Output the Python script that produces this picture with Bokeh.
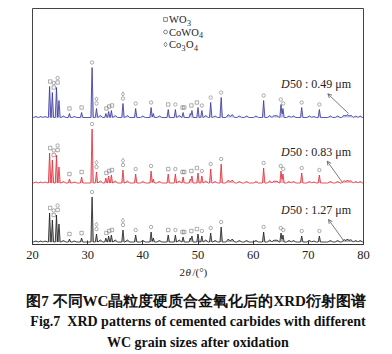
import numpy as np
from bokeh.plotting import figure
from bokeh.layouts import column
from bokeh.models import Range1d, Label, Arrow, OpenHead, FixedTicker, Title
from bokeh.embed import file_html
from bokeh.resources import INLINE

# ---------------- data ----------------
# 2theta positions of the diffraction peaks
peak_pos = [23.1, 23.6, 24.35, 24.8, 26.7, 28.9, 30.8, 31.6, 33.3, 33.8, 34.3,
            36.4, 38.7, 41.5, 41.9, 44.6, 45.9, 47.3, 48.6, 48.9, 50.0, 50.7,
            52.3, 54.2, 61.9, 65.05, 65.4, 68.8, 72.0]
# peak intensities (a.u.) for each grain size
h_049 = [31, 25, 30, 17, 4, 5, 50, 9, 4, 6, 7,
         14, 9, 10, 4, 8, 8, 5, 4, 7, 10, 7,
         15, 20, 17, 13, 9, 10, 8]
h_083 = [30, 23, 28, 16, 4, 6, 54, 11, 5, 7, 8,
         13, 9, 12, 4, 9, 9, 6, 4, 7, 10, 7,
         14, 19, 15, 12, 9, 10, 8]
h_127 = [29, 22, 27, 18, 3, 4, 45, 8, 4, 6, 7,
         12, 7, 10, 4, 7, 7, 5, 4, 6, 8, 6,
         9, 15, 10, 9, 7, 6, 6]
# weak background bumps
minor_pos = [20.6, 21.5, 22.3, 25.6, 27.6, 32.3, 35.0, 37.2, 40.0, 43.0, 46.6,
             51.4, 53.1, 55.5, 56.2, 57.5, 58.8, 60.5, 63.0, 63.8, 64.3, 66.5,
             67.3, 70.2, 71.0, 74.0, 75.3, 76.5, 77.1, 77.7, 78.6, 79.4]
minor_049 = [1, 1, 1, 1.5, 1, 2, 2, 2, 1.5, 1.5, 2, 2, 1.5, 3, 3, 1.5, 1.5,
             1.5, 2, 2, 2, 1.5, 1.5, 1.5, 1, 1.5, 1.5, 2.5, 3, 2.5, 1.5, 1.5]
minor_083 = [1, 1, 1, 1.5, 1, 2, 2, 2, 1.5, 1.5, 2, 2, 1.5, 3, 3, 1.5, 1.5,
             1.5, 2, 2, 2, 1.5, 1.5, 1.5, 1, 1.5, 1.5, 2.5, 3, 2.5, 1.5, 1.5]
minor_127 = [1, 1, 1, 1.5, 1, 2, 2, 2, 1.5, 1.5, 2, 2, 1.5, 3, 3, 1.5, 1.5,
             1.5, 2, 2, 2, 1.5, 1.5, 1.5, 1, 1.5, 1.5, 2.5, 3, 2.5, 1.5, 1.5]
# phase markers: position and phases (s = WO3, c = CoWO4, d = Co3O4), bottom to top
marker_pos = [23.2, 23.85, 24.55, 26.7, 28.9, 30.8, 31.6, 33.4, 33.9, 34.4,
              36.4, 38.7, 41.5, 44.6, 45.9, 47.2, 47.5, 48.8, 49.8, 50.7,
              52.3, 54.2, 61.9, 65.0, 65.45, 68.8, 72.0]
marker_sym = ["s", "sc", "sc", "s", "s", "c", "cd", "s", "s", "s",
              "cd", "c", "c", "s", "c", "s", "s", "s", "s", "c",
              "c", "c", "c", "c", "c", "c", "c"]
labels = ["0.49", "0.83", "1.27"]
ticks = [20, 30, 40, 50, 60, 70, 80]

series = [
    (h_049, minor_049, 127.0, "#34349a", "#b9b9e6", labels[0]),
    (h_083, minor_083, 61.5, "#e02a36", "#f6a8ae", labels[1]),
    (h_127, minor_127, 2.5, "#1a1a1a", "#a8a8a8", labels[2]),
]

# ---------------- layout helpers ----------------
W, H = 392, 354
X0, X1, YT, YB = 32, 363, 8, 244
H1 = 265                      # height of the chart part
SX = (X1 - X0) / 60.0
SERIF = "Liberation Serif"


def dx(px):
    return 20 + (px - X0) / SX


def dy(py):
    return YB - py


p = figure(width=W, height=H1, output_backend="svg", toolbar_location=None,
           x_range=Range1d(20, 80), y_range=Range1d(0, YB - YT),
           min_border_left=X0, min_border_right=W - X1,
           min_border_top=YT, min_border_bottom=H1 - YB)
p.background_fill_color = "white"
p.border_fill_color = "white"
p.outline_line_color = "#444"
p.outline_line_width = 1
p.grid.visible = False
p.yaxis.visible = False
ax = p.xaxis[0]
ax.ticker = FixedTicker(ticks=ticks)
ax.major_tick_in = 4
ax.major_tick_out = 0
ax.minor_tick_line_color = None
ax.axis_line_color = "#333"
ax.major_tick_line_color = "#333"
ax.major_label_text_font = SERIF
ax.major_label_text_font_size = "12.5px"
ax.major_label_text_color = "#222"
ax.major_label_standoff = 6

W_MAIN, W_MINOR = 0.22, 0.45


def curve(heights, minors):
    pos = np.array(peak_pos + minor_pos, dtype=float)
    hh = np.array(list(heights) + list(minors), dtype=float)
    ww = np.array([W_MAIN] * len(peak_pos) + [W_MINOR] * len(minor_pos))
    xs = np.unique(np.concatenate([[20.0, 80.0], pos - ww, pos, pos + ww]))
    xs = xs[(xs >= 20) & (xs <= 80)]
    ys = np.zeros_like(xs)
    for c, h, w in zip(pos, hh, ww):
        ys += np.maximum(0.0, h * (1 - np.abs(xs - c) / w))
    return xs, ys


for heights, minors, off, lc, fc, lab in series:
    xs, ys = curve(heights, minors)
    p.varea(x=xs, y1=np.full_like(xs, off), y2=ys + off, fill_color=fc, fill_alpha=0.9)
    p.line(xs, ys + off, line_color=lc, line_width=0.8)
    # phase markers
    mk = {"s": ([], []), "c": ([], []), "d": ([], [])}
    for mp, syms in zip(marker_pos, marker_sym):
        sel = (xs > mp - 0.4) & (xs < mp + 0.4)
        top = ys[sel].max() if sel.any() else 0
        for k, s in enumerate(syms):
            mk[s][0].append(mp)
            mk[s][1].append(off + top + 5 + 4.5 * k)
    p.scatter(mk["s"][0], mk["s"][1], marker="square", size=3.4, fill_color=None,
              line_color="#777", line_width=0.6)
    p.scatter(mk["c"][0], mk["c"][1], marker="circle", size=3.4, fill_color=None,
              line_color="#777", line_width=0.6)
    p.scatter(mk["d"][0], mk["d"][1], marker="diamond", size=4.4, fill_color=None,
              line_color="#777", line_width=0.6)

# legend
leg_rows = [(19, "square", 3.8, [("WO", 0), ("3", 1)]),
            (31.5, "circle", 3.8, [("CoWO", 0), ("4", 1)]),
            (44, "diamond", 4.8, [("Co", 0), ("3", 1), ("O", 0), ("4", 1)])]
adv = {"WO": 18.0, "CoWO": 30.0, "Co": 12.5, "O": 8.0}
for py, mname, msz, parts in leg_rows:
    p.scatter([dx(165)], [dy(py)], marker=mname, size=msz, fill_color=None,
              line_color="#555", line_width=0.7)
    xp = 168.5
    for txt, sub in parts:
        p.add_layout(Label(x=dx(xp), y=dy(py + (3 if sub else 0)), text=txt,
                           text_font=SERIF,
                           text_font_size="8px" if sub else "10.5px",
                           text_color="#222", text_baseline="middle",
                           text_align="left"))
        xp += 4.5 if sub else adv[txt]

# D50 labels and arrows
d_rows = [(83, 93.3, 327.3, 113, 348),
          (151.7, 160.7, 326.7, 181.7, 341.7),
          (209, 219, 328, 240, 343)]
for (ly, hy, hx, ty, tx), lab in zip(d_rows, labels):
    p.add_layout(Label(x=dx(280.5), y=dy(ly), text="D", text_font=SERIF,
                       text_font_style="italic", text_font_size="12px",
                       text_color="#222", text_baseline="middle"))
    p.add_layout(Label(x=dx(289.5), y=dy(ly), text="50 : " + lab + "  μm", text_font=SERIF,
                       text_font_size="12px", text_color="#222", text_baseline="middle"))
    p.add_layout(Arrow(end=OpenHead(size=4, line_color="#444", line_width=0.7),
                       x_start=dx(tx), y_start=dy(ty), x_end=dx(hx), y_end=dy(hy),
                       line_color="#444", line_width=0.7))

# ---------------- caption panel ----------------
H2 = H - H1
CAP_BOTTOM = 64
FRAME2 = H2 - CAP_BOTTOM
cap = figure(width=W, height=H2, output_backend="svg", toolbar_location=None,
             x_range=Range1d(X0, X1), y_range=Range1d(0, FRAME2),
             x_axis_type=None, y_axis_type=None,
             min_border_left=X0, min_border_right=W - X1,
             min_border_top=0, min_border_bottom=CAP_BOTTOM)
cap.grid.visible = False
cap.outline_line_color = None
cap.background_fill_color = "white"
cap.border_fill_color = "white"

# x-axis title: 2θ/(°)  (centre about 6 px below the top of this panel)
for px, txt, st in [(179, "2", "normal"), (185, "θ", "italic"), (192, "/(°)", "normal")]:
    cap.add_layout(Label(x=px, y=FRAME2 - 6.5, text=txt, text_font=SERIF, text_font_style=st,
                         text_font_size="11px", text_color="#222", text_baseline="middle"))

captions = [("图7  不同WC晶粒度硬质合金氧化后的XRD衍射图谱", "15px", 0),
            ("Fig.7\u00a0 XRD patterns of cemented carbides with different", "14px", 6),
            ("WC grain sizes after oxidation", "14px", 3.3)]
for txt, fs, so in captions:
    cap.add_layout(Title(text=txt, align="center", text_font=SERIF, text_font_style="bold",
                         text_font_size=fs, text_color="#111", standoff=so), "below")

layout = column(p, cap, spacing=0)
open("out.html", "w").write(file_html(layout, INLINE))
